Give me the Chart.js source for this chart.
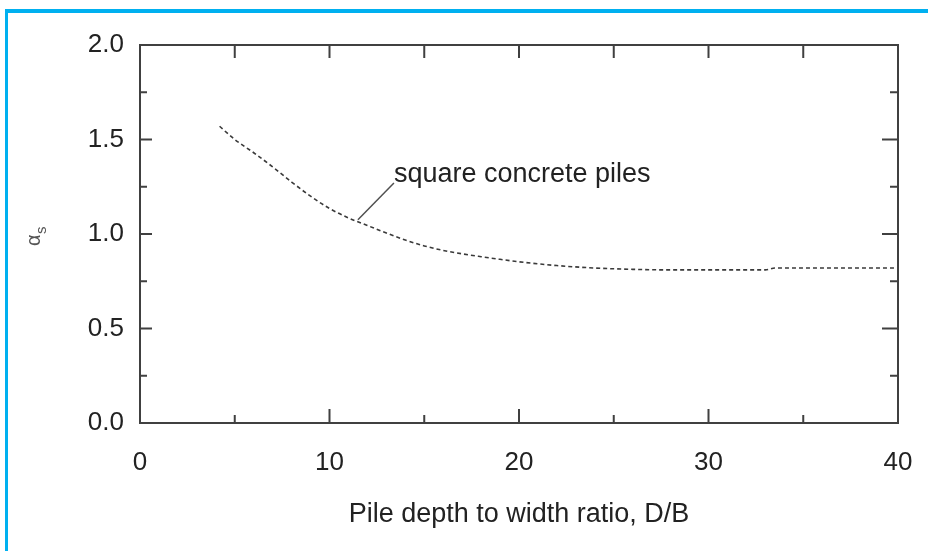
<!DOCTYPE html>
<html>
<head>
<meta charset="utf-8">
<script src="https://cdn.jsdelivr.net/npm/chart.js@4"></script>
<style>
  html, body { margin: 0; padding: 0; background: #fff; }
  #wrap { position: relative; width: 928px; height: 551px; overflow: hidden; }
  #frame { position: absolute; left: 5px; top: 9px; width: 940px; height: 560px;
           border-top: 4px solid #00b0f0; border-left: 3px solid #00b0f0; box-sizing: border-box; }
  canvas { position: absolute; left: 0; top: 0; }
</style>
</head>
<body>
<div id="wrap">
  <div id="frame"></div>
  <canvas id="c" width="928" height="551"></canvas>
</div>
<script>
// ---- data ----
const depthRatio = [4.2, 5, 6, 7, 8, 9, 10, 11, 12, 13, 14, 15, 16, 17, 18, 19, 20, 22, 24, 26, 28, 30, 33, 33.5, 36, 40];
const alphaS     = [1.57, 1.50, 1.43, 1.355, 1.275, 1.20, 1.135, 1.085, 1.045, 1.005, 0.968, 0.937, 0.913, 0.895, 0.88, 0.866, 0.853, 0.833, 0.82, 0.813, 0.81, 0.81, 0.81, 0.82, 0.82, 0.82];
const seriesName = 'square concrete piles';
const xTicks = [0, 10, 20, 30, 40];
const yTicks = [0.0, 0.5, 1.0, 1.5, 2.0];
const xMinorTicks = [5, 15, 25, 35];
const yMinorTicks = [0.25, 0.75, 1.25, 1.75];
const xTitle = 'Pile depth to width ratio, D/B';
const yTitleMain = 'α';
const yTitleSub = 's';
const labelAnchor = [11.5, 1.075];   // point on the curve the leader starts from
const labelPos = [13.4, 1.27];       // where the leader ends / label starts

const AXIS = '#404040';
const FONT = "'Liberation Sans', Arial, sans-serif";

const framePlugin = {
  id: 'framePlugin',
  afterDraw(chart) {
    const {ctx, chartArea: a, scales: {x, y}} = chart;
    ctx.save();
    ctx.strokeStyle = AXIS;
    ctx.lineWidth = 2;
    ctx.strokeRect(a.left, a.top, a.right - a.left, a.bottom - a.top);
    ctx.beginPath();
    const inner = (v, major) => {
      const px = x.getPixelForValue(v);
      ctx.moveTo(px, a.bottom); ctx.lineTo(px, a.bottom - (major ? 14 : 8));
      ctx.moveTo(px, a.top); ctx.lineTo(px, a.top + 13);
    };
    xTicks.slice(1, -1).forEach(v => inner(v, true));
    xMinorTicks.forEach(v => inner(v, false));
    const innerY = (v, major) => {
      const py = y.getPixelForValue(v);
      ctx.moveTo(a.left, py); ctx.lineTo(a.left + (major ? 12 : 7), py);
      ctx.moveTo(a.right, py); ctx.lineTo(a.right - (major ? 16 : 8), py);
    };
    yTicks.slice(1, -1).forEach(v => innerY(v, true));
    yMinorTicks.forEach(v => innerY(v, false));
    ctx.stroke();

    // annotation leader + text
    const ax = x.getPixelForValue(labelAnchor[0]), ay = y.getPixelForValue(labelAnchor[1]);
    const lx = x.getPixelForValue(labelPos[0]), ly = y.getPixelForValue(labelPos[1]);
    ctx.beginPath();
    ctx.lineWidth = 1.5;
    ctx.strokeStyle = '#505050';
    ctx.moveTo(ax, ay); ctx.lineTo(lx, ly);
    ctx.stroke();
    ctx.fillStyle = '#222';
    ctx.font = `27px ${FONT}`;
    ctx.textBaseline = 'alphabetic';
    ctx.textAlign = 'left';
    ctx.fillText(seriesName, lx, ly - 1);

    // y title: alpha with subscript s, rotated
    ctx.translate(40, (a.top + a.bottom) / 2 + 4);
    ctx.rotate(-Math.PI / 2);
    ctx.fillStyle = '#555';
    ctx.font = `20px ${FONT}`;
    ctx.textBaseline = 'alphabetic';
    ctx.fillText(yTitleMain, -8, 0);
    ctx.font = `15px ${FONT}`;
    ctx.fillText(yTitleSub, 4, 6);
    ctx.restore();
  }
};

new Chart(document.getElementById('c'), {
  type: 'line',
  data: {
    datasets: [{
      label: seriesName,
      data: depthRatio.map((d, i) => ({x: d, y: alphaS[i]})),
      borderColor: '#3a3a3a',
      borderWidth: 1.6,
      borderDash: [4, 3],
      pointRadius: 0,
      tension: 0.4,
      cubicInterpolationMode: 'monotone',
      fill: false
    }]
  },
  options: {
    responsive: false,
    animation: false,
    events: [],
    layout: { padding: { left: 0, top: 45, right: 30, bottom: 0 } },
    plugins: { legend: { display: false }, tooltip: { enabled: false } },
    scales: {
      x: {
        type: 'linear', min: 0, max: 40,
        afterFit(s) { s.height = 128; s.paddingLeft = 0; s.paddingRight = 0; },
        afterBuildTicks(s) { s.ticks = xTicks.map(v => ({value: v})); },
        grid: { display: false, drawTicks: false },
        border: { display: false },
        ticks: { color: '#222', font: { family: FONT, size: 26 }, padding: 24, maxRotation: 0,
                 callback: v => String(v) },
        title: { display: true, text: xTitle, color: '#222', font: { family: FONT, size: 27 },
                 padding: { top: 0, bottom: 20 } }
      },
      y: {
        type: 'linear', min: 0, max: 2,
        afterFit(s) { s.width = 140; s.paddingTop = 0; s.paddingBottom = 0; },
        afterBuildTicks(s) { s.ticks = yTicks.map(v => ({value: v})); },
        grid: { display: false, drawTicks: false },
        border: { display: false },
        ticks: { color: '#222', font: { family: FONT, size: 26 }, padding: 16,
                 callback: v => v.toFixed(1) }
      }
    }
  },
  plugins: [framePlugin]
});
</script>
</body>
</html>
